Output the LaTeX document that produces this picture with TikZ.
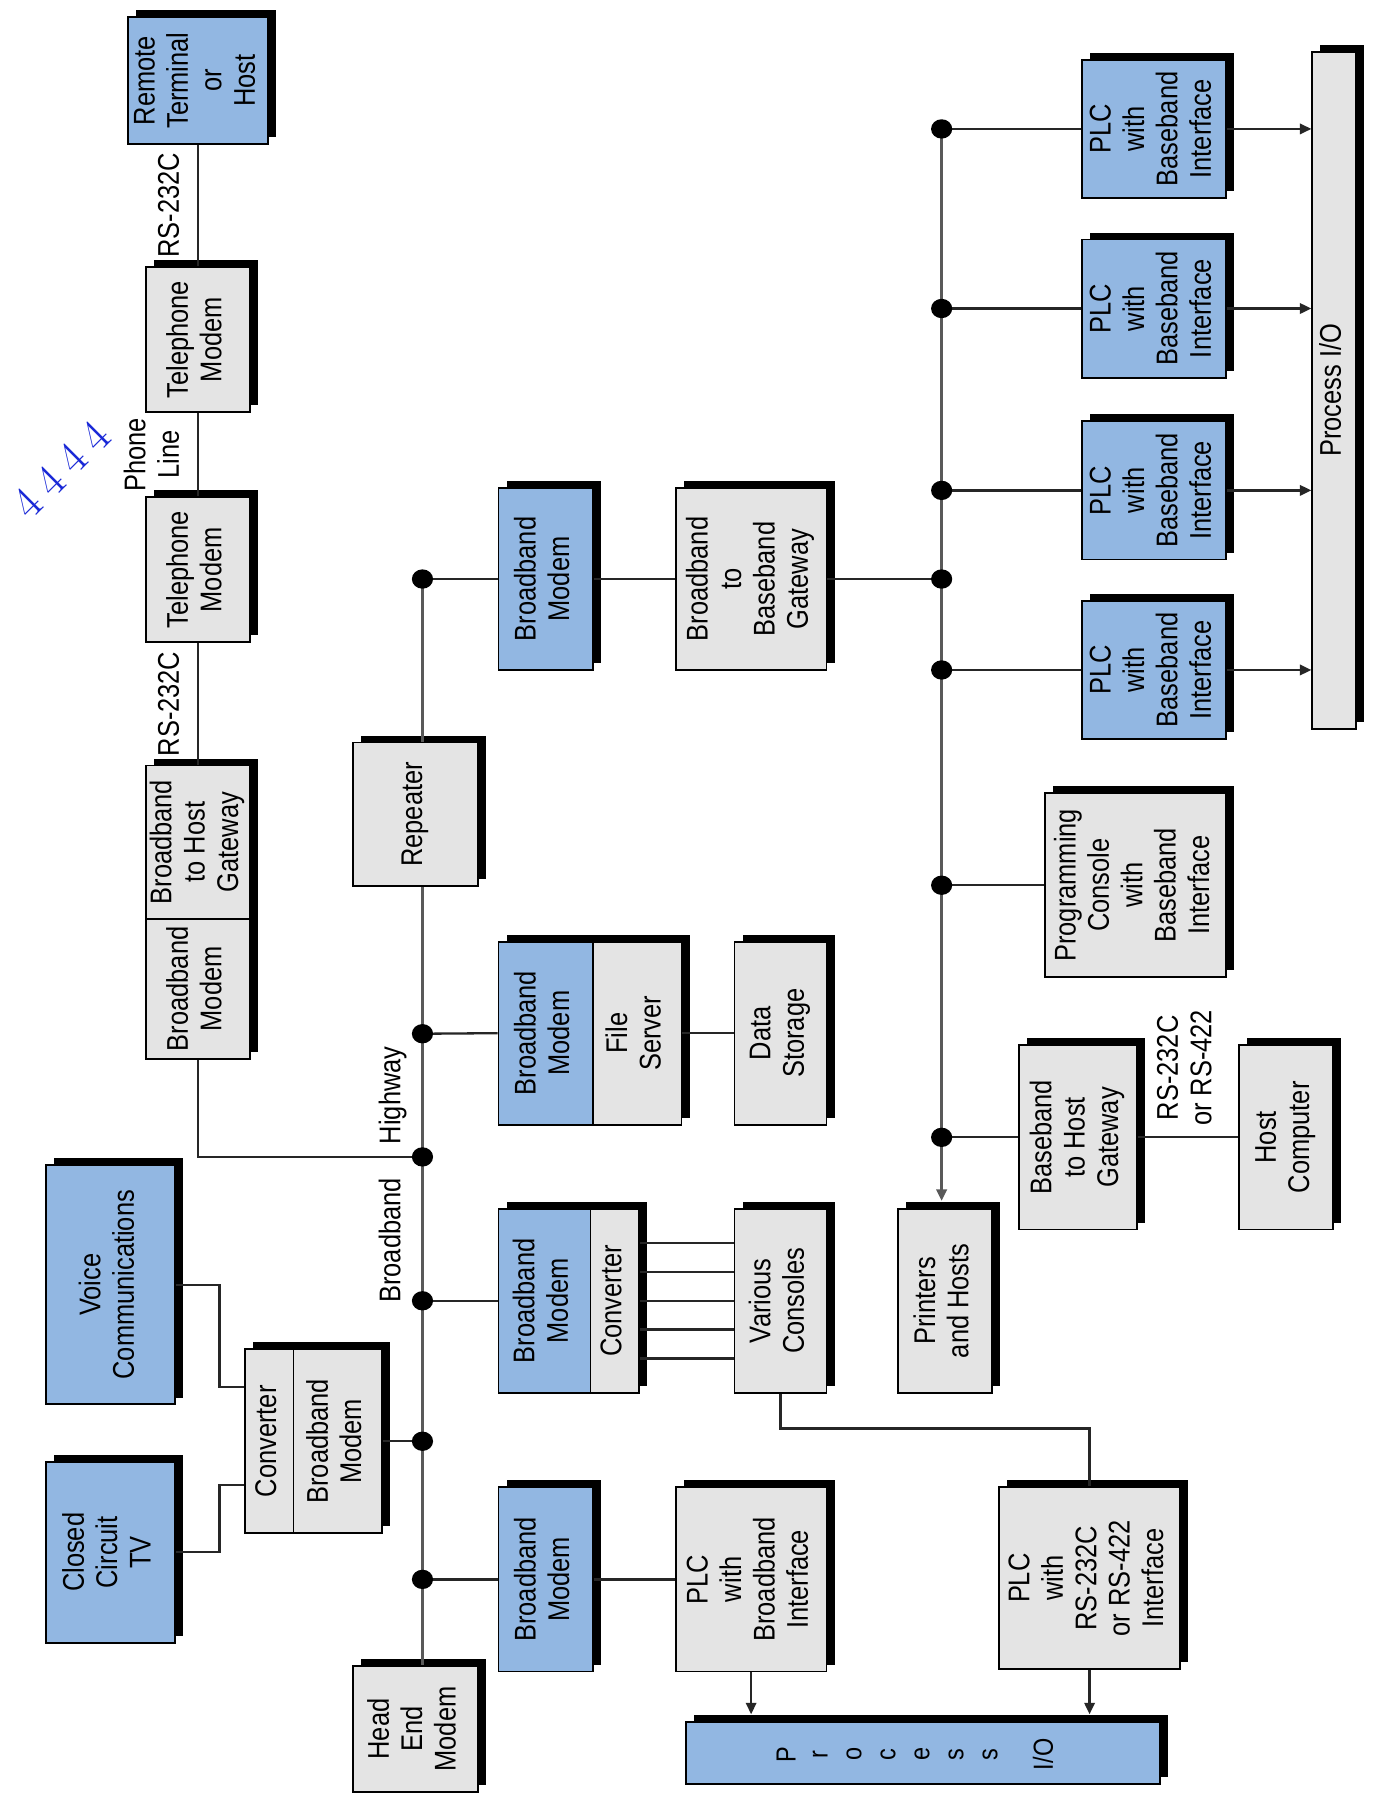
\documentclass[tikz,border=0pt]{standalone}
\usepackage{fontspec}
\newfontfamily\hv{Liberation Sans}[FakeStretch=0.85]
\usetikzlibrary{shadows,arrows.meta}
\definecolor{boxblue}{RGB}{146,183,226}
\definecolor{boxgray}{RGB}{228,228,228}
\definecolor{annblue}{RGB}{25,40,215}
\newcommand\rt[1]{\rotatebox{90}{\begin{tabular}{@{}c@{}}#1\end{tabular}}}
\newcommand\mybox[7]{\node[#6, minimum width={(#4-#2)*0.5pt}, minimum height={(#5-#3)*0.5pt}] (#1) at ({(#2+#4)/2},{(#3+#5)/2}) {\rt{#7}};}
\tikzset{
  dtext/.style={font=\hv\fontsize{13}{14.5}\selectfont},
  box/.style={dtext, draw=black, line width=0.8pt, inner sep=0pt,
    drop shadow={shadow xshift=3.5pt, shadow yshift=3pt, fill=black, opacity=1}},
  bbox/.style={box, fill=boxblue},
  gbox/.style={box, fill=boxgray},
  wire/.style={line width=1pt, draw=black!85},
  bus/.style={line width=1.5pt, draw=black!65},
  lbl/.style={dtext, inner sep=1.5pt},
  barlbl/.style={font=\hv\fontsize{12}{13}\selectfont, inner sep=1pt},
  tipa/.style={-{Triangle[length=5pt,width=4.5pt]}},
}
\begin{document}
\begin{tikzpicture}[x=0.5pt,y=-0.5pt]
\fill[white] (0,0) rectangle (1199,1568);
\useasboundingbox (0,0) rectangle (1199,1568);

% coordinates on highway and baseband bus
\coordinate (hw1) at (367,503);
\coordinate (hw2) at (367,898);
\coordinate (hw3) at (367,1005);
\coordinate (hw4) at (367,1130);
\coordinate (hw5) at (367,1252);
\coordinate (hw6) at (367,1372);
\coordinate (bs1) at (818,112);
\coordinate (bs2) at (818,268);
\coordinate (bs3) at (818,426);
\coordinate (bs4) at (818,503);
\coordinate (bs5) at (818,582);
\coordinate (bs6) at (818,769);
\coordinate (bs7) at (818,988);

% boxes
\mybox{remote}{111}{15}{233}{125}{bbox}{Remote\\Terminal\\or\\Host}
\mybox{tel1}{127}{232}{217}{358}{gbox}{Telephone\\Modem}
\mybox{tel2}{127}{432}{217}{558}{gbox}{Telephone\\Modem}
\mybox{bbmA}{127}{798}{217}{920}{gbox}{Broadband\\Modem}
\mybox{gwHost}{127}{665}{217}{798}{gbox}{Broadband\\to Host\\Gateway}
\mybox{rep}{307}{645}{415}{770}{gbox}{Repeater}
\mybox{head}{307}{1447}{415}{1557}{gbox}{Head\\End\\Modem}
\mybox{bbmB}{433}{424}{515}{582}{bbox}{Broadband\\Modem}
\mybox{gwBB}{587}{424}{718}{582}{gbox}{Broadband\\to\\Baseband\\Gateway}
\mybox{bbmF}{433}{818}{515}{977}{bbox}{Broadband\\Modem}
\mybox{fsrv}{515}{818}{592}{977}{gbox}{File\\Server}
\mybox{data}{638}{818}{718}{977}{gbox}{Data\\Storage}
\mybox{bbmC}{433}{1050}{513}{1210}{bbox}{Broadband\\Modem}
\mybox{conv}{513}{1050}{555}{1210}{gbox}{Converter}
\mybox{cons}{638}{1050}{718}{1210}{gbox}{Various\\Consoles}
\mybox{bbmD}{433}{1292}{515}{1452}{bbox}{Broadband\\Modem}
\mybox{plcB}{587}{1292}{718}{1452}{gbox}{PLC\\with\\Broadband\\Interface}
\mybox{plcR}{868}{1292}{1025}{1450}{gbox}{PLC\\with\\RS-232C\\or RS-422\\Interface}
\mybox{pioB}{596}{1496}{1008}{1550}{bbox}{}
\mybox{voice}{40}{1012}{152}{1220}{bbox}{Voice\\Communications}
\mybox{cctv}{40}{1270}{152}{1427}{bbox}{Closed\\Circuit\\TV}
\mybox{conv2}{213}{1172}{255}{1332}{gbox}{Converter}
\mybox{bbmL}{255}{1172}{332}{1332}{gbox}{Broadband\\Modem}
\mybox{prn}{780}{1050}{862}{1210}{gbox}{Printers\\and Hosts}
\mybox{gwH}{885}{908}{988}{1068}{gbox}{Baseband\\to Host\\Gateway}
\mybox{host}{1076}{908}{1158}{1068}{gbox}{Host\\Computer}
\mybox{prog}{908}{689}{1065}{849}{gbox}{Programming\\Console\\with\\Baseband\\Interface}
\mybox{plc1}{940}{52}{1065}{172}{bbox}{PLC\\with\\Baseband\\Interface}
\mybox{plc2}{940}{208}{1065}{328}{bbox}{PLC\\with\\Baseband\\Interface}
\mybox{plc3}{940}{366}{1065}{486}{bbox}{PLC\\with\\Baseband\\Interface}
\mybox{plc4}{940}{522}{1065}{642}{bbox}{PLC\\with\\Baseband\\Interface}
\mybox{pioR}{1140}{45}{1178}{633}{gbox}{Process I/O}

% letters of the lower Process I/O bar
\foreach \ch [count=\i] in {P,r,o,c,e,s,s}
  \node[barlbl] (pl\i) at ({683+(\i-1)*29.5},1524) {\rotatebox{90}{\ch}};
\node[barlbl] (plio) at (906,1524) {\rotatebox{90}{I/O}};

\coordinate (pioBtop) at ([yshift=3pt]pioB.north);
\coordinate (prntop) at ([yshift=3pt]prn.north);

% top chain
\draw[wire] (remote.south) -- node[lbl,left=2pt]{\rt{RS-232C}} (tel1.north);
\draw[wire] (tel1.south) -- node[lbl,left=2pt]{\rt{Phone\\Line}} (tel2.north);
\draw[wire] (tel2.south) -- node[lbl,left=2pt]{\rt{RS-232C}} (gwHost.north);
\draw[wire] (bbmA.south) |- (hw3);

% highway
\draw[bus] (hw1) -- (hw1 |- rep.north);
\draw[bus] (hw1 |- rep.south) -- (hw2)
  -- node[lbl,left=3pt]{\rt{Highway}} (hw3)
  -- node[lbl,left=3pt,pos=0.58]{\rt{Broadband}} (hw4)
  -- (hw5) -- (hw6) -- (hw1 |- head.north);

\draw[wire] (hw1) -- (bbmB.west);
\draw[wire] (bbmB.east) -- (gwBB.west);
\draw[wire] (gwBB.east) -- (bs4);
\draw[wire] (hw2) -- (bbmF.west);
\draw[wire] (fsrv.east) -- (data.west);
\draw[wire] (hw4) -- (bbmC.west);
\foreach \d in {-25,-12.5,0,12.5,25}
  \draw[wire] ([yshift=\d pt]conv.east) -- ([yshift=\d pt]cons.west);
\draw[wire] (bbmL.east) -- (hw5);
\draw[wire] (hw6) -- (bbmD.west);
\draw[wire] (bbmD.east) -- (plcB.west);
\draw[wire,tipa] (plcB.south) -- (plcB.south |- pioBtop);
\draw[wire] (cons.south) -- ++(0,30) -| (plcR.north);
\draw[wire,tipa] (plcR.south) -- (plcR.south |- pioBtop);
\draw[wire] (voice.east) -- ++(38,0) |- ([yshift=23.5pt]conv2.west);
\draw[wire] (cctv.east) -- ++(38,0) |- ([yshift=-19pt]conv2.west);

% baseband bus
\draw[bus,tipa] (bs1) -- (bs1 |- prntop);
\foreach \i/\b in {1/bs1,2/bs2,3/bs3,4/bs5}{
  \draw[wire] (\b) -- (plc\i.west);
  \draw[wire,tipa] (plc\i.east) -- (plc\i.east -| pioR.west);
}
\draw[wire] (bs6) -- (prog.west);
\draw[wire] (bs7) -- (gwH.west);
\draw[wire] (gwH.east) -- node[lbl,above=3pt]{\rt{RS-232C\\or RS-422}} (host.west);

% junction dots
\foreach \c in {hw1,hw2,hw3,hw4,hw5,hw6,bs1,bs2,bs3,bs4,bs5,bs6,bs7}
  \fill[black] (\c) circle[x radius=4.6pt, y radius=4.2pt];

% annotation
\node[text=annblue, font=\rmfamily\fontsize{20}{20}\selectfont, rotate=45, inner sep=0pt] (annot) at (53,408)
  {4\hspace{4.6pt}4\hspace{4.6pt}4\hspace{4.6pt}4};
\end{tikzpicture}
\end{document}
